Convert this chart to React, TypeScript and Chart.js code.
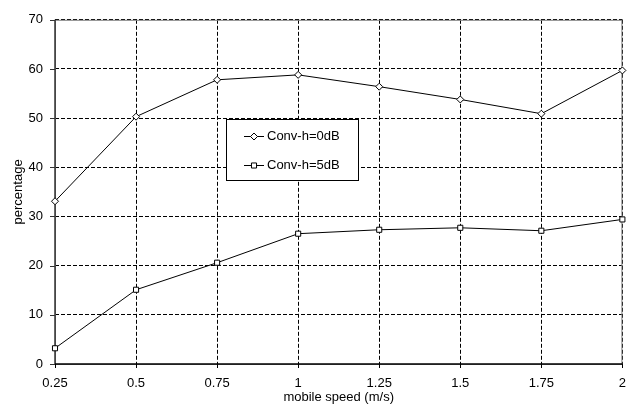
import React, { useEffect, useRef } from "react";
import { Chart, registerables } from "chart.js";

Chart.register(...registerables);

const categories = ["0.25", "0.5", "0.75", "1", "1.25", "1.5", "1.75", "2"];
const seriesNames = ["Conv-h=0dB", "Conv-h=5dB"];
const conv0dB = [33.1, 50.3, 57.8, 58.8, 56.4, 53.8, 50.9, 59.7];
const conv5dB = [3.2, 15.1, 20.6, 26.5, 27.3, 27.7, 27.1, 29.4];
const yMin = 0;
const yMax = 70;
const yStep = 10;
const xTitle = "mobile speed (m/s)";
const yTitle = "percentage";

const FONT = "'Liberation Sans', Arial, sans-serif";

const framePlugin = {
  id: "frame",
  beforeDatasetsDraw(chart: any) {
    const { ctx, chartArea: a, scales } = chart;
    ctx.save();
    ctx.setLineDash([]);
    ctx.strokeStyle = "#808080";
    ctx.lineWidth = 1;
    ctx.strokeRect(a.left + 0.5, a.top + 0.5, a.right - a.left - 1, a.bottom - a.top);
    ctx.strokeStyle = "#333333";
    ctx.lineWidth = 1.5;
    ctx.beginPath();
    ctx.moveTo(a.left, a.top);
    ctx.lineTo(a.left, a.bottom);
    ctx.stroke();
    ctx.lineWidth = 1;
    const y = scales.y;
    y.ticks.forEach((_t: any, i: number) => {
      const py = Math.round(y.getPixelForTick(i)) + 0.5;
      ctx.beginPath();
      ctx.moveTo(a.left - 5, py);
      ctx.lineTo(a.left, py);
      ctx.stroke();
    });
    ctx.strokeStyle = "#000000";
    ctx.lineWidth = 1.5;
    ctx.beginPath();
    ctx.moveTo(a.left, a.bottom);
    ctx.lineTo(a.right, a.bottom);
    ctx.stroke();
    ctx.lineWidth = 1;
    const x = scales.x;
    x.ticks.forEach((_t: any, i: number) => {
      const px = Math.round(x.getPixelForTick(i)) + 0.5;
      ctx.beginPath();
      ctx.moveTo(px, a.bottom);
      ctx.lineTo(px, a.bottom + 4);
      ctx.stroke();
    });
    ctx.restore();
  },
};

const legendPlugin = {
  id: "boxLegend",
  afterDraw(chart: any) {
    const { ctx } = chart;
    const bx = 226.5, by = 119.5, bw = 132, bh = 61;
    ctx.save();
    ctx.setLineDash([]);
    ctx.fillStyle = "#ffffff";
    ctx.fillRect(bx, by, bw, bh);
    ctx.strokeStyle = "#000000";
    ctx.lineWidth = 1;
    ctx.strokeRect(bx, by, bw, bh);
    const rows = [136, 165];
    chart.data.datasets.forEach((ds: any, i: number) => {
      const ry = rows[i] + 0.5;
      ctx.strokeStyle = "#000";
      ctx.lineWidth = 1;
      ctx.beginPath();
      ctx.moveTo(244, ry);
      ctx.lineTo(264, ry);
      ctx.stroke();
      ctx.fillStyle = "#fff";
      const style = ds.pointStyle;
      const r = ds.pointRadius;
      ctx.beginPath();
      if (style === "rectRot") {
        ctx.moveTo(254 - r, ry);
        ctx.lineTo(254, ry - r);
        ctx.lineTo(254 + r, ry);
        ctx.lineTo(254, ry + r);
        ctx.closePath();
      } else {
        const s = Math.SQRT1_2 * r;
        ctx.rect(254 - s, ry - s, 2 * s, 2 * s);
      }
      ctx.fill();
      ctx.stroke();
      ctx.fillStyle = "#000";
      ctx.font = `13px ${FONT}`;
      ctx.textAlign = "left";
      ctx.textBaseline = "middle";
      ctx.fillText(ds.label, 267, rows[i] + 0.5);
    });
    ctx.restore();
  },
};

export default function App() {
  const ref = useRef<HTMLCanvasElement>(null);
  useEffect(() => {
    if (!ref.current) return;
    Chart.defaults.font.family = FONT;
    const chart = new Chart(ref.current, {
      type: "line",
      data: {
        labels: categories,
        datasets: [
          {
            label: seriesNames[0],
            data: conv0dB,
            borderColor: "#000",
            borderWidth: 1,
            backgroundColor: "#fff",
            pointStyle: "rectRot",
            pointRadius: 3.5,
            pointBorderColor: "#000",
            pointBackgroundColor: "#fff",
            pointBorderWidth: 1,
            tension: 0,
            clip: false as any,
          },
          {
            label: seriesNames[1],
            data: conv5dB,
            borderColor: "#000",
            borderWidth: 1,
            backgroundColor: "#fff",
            pointStyle: "rect",
            pointRadius: 3.6,
            pointBorderColor: "#000",
            pointBackgroundColor: "#fff",
            pointBorderWidth: 1,
            tension: 0,
            clip: false as any,
          },
        ],
      },
      options: {
        animation: false,
        responsive: false,
        maintainAspectRatio: false,
        devicePixelRatio: 1,
        layout: { padding: { top: 15, right: 14, left: 0, bottom: 0 } },
        plugins: {
          legend: { display: false },
          tooltip: { enabled: false },
        },
        scales: {
          x: {
            type: "category",
            offset: false,
            grid: {
              color: "#000",
              lineWidth: 1,
              drawTicks: false,
              borderDash: [4, 2],
            } as any,
            border: { display: false, dash: [4, 2] },
            ticks: {
              color: "#000",
              font: { size: 13, family: FONT },
              padding: 12,
              maxRotation: 0,
              autoSkip: false,
            },
            title: {
              display: true,
              text: xTitle,
              color: "#000",
              font: { size: 13, family: FONT },
              padding: { top: 0, bottom: 1 },
            },
            afterFit(scale: any) {
              scale.height = 42;
            },
          },
          y: {
            min: yMin,
            max: yMax,
            grid: {
              color: "#000",
              lineWidth: 1,
              drawTicks: false,
              borderDash: [4, 2],
            } as any,
            border: { display: false, dash: [4, 2] },
            ticks: {
              stepSize: yStep,
              color: "#000",
              font: { size: 13, family: FONT },
              padding: 12,
            },
            title: {
              display: true,
              text: yTitle,
              color: "#000",
              font: { size: 13, family: FONT },
              padding: { top: 11, bottom: 0 },
            },
            afterFit(scale: any) {
              scale.width = 55;
            },
          },
        },
      },
      plugins: [framePlugin, legendPlugin],
    });
    return () => chart.destroy();
  }, []);
  return (
    <div style={{ position: "absolute", left: 0, top: 0, width: 638, height: 406, background: "#fff" }}>
      <canvas ref={ref} width={638} height={406} style={{ display: "block" }} />
    </div>
  );
}
